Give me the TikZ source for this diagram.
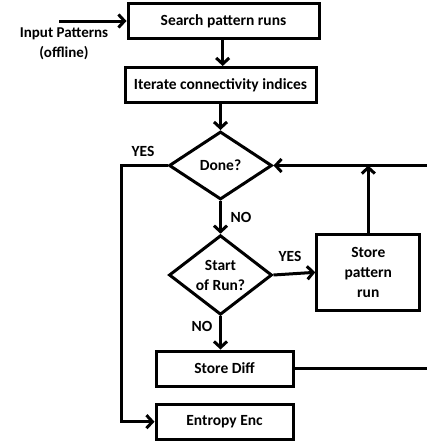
\documentclass[tikz,border=0pt]{standalone}
\usepackage{fontspec}
\setmainfont{Carlito}
\usetikzlibrary{arrows.meta,shapes.geometric}
\begin{document}
\begin{tikzpicture}[x=1pt,y=1pt,
  every node/.style={font=\bfseries\fontsize{15.5}{20}\selectfont},
  flow/.style={line width=3pt},
  arr/.style={flow,-{Straight Barb[length=6pt,width=13pt,line width=3pt]}},
  stepbox/.style={draw,line width=3pt,minimum height=35pt,inner sep=0pt,align=center},
  decide/.style={draw,line width=3pt,diamond,inner sep=0pt,minimum width=103pt,minimum height=68pt,align=center},
  lbl/.style={inner sep=0pt}]
\fill[white] (0,0) rectangle (427,-442);
\useasboundingbox (0,0) rectangle (427,-442);
% process boxes
\node[stepbox,minimum width=191pt] (search) at (223.5,-21) {Search pattern runs};
\node[stepbox,minimum width=191pt] (iter) at (220.5,-85) {Iterate connectivity indices};
\node[decide] (done) at (220.5,-165.5) {Done?};
\node[decide] (start) at (220.5,-275) {Start\\of Run?};
\node[stepbox,minimum width=103pt,minimum height=76pt] (store) at (368.3,-272.3) {Store\\pattern\\run};
\node[stepbox,minimum width=137pt] (diff) at (224.5,-368.5) {Store Diff};
\node[stepbox,minimum width=137pt] (enc) at (224.5,-421.7) {Entropy Enc};
% input and labels
\node[lbl,align=center,font=\bfseries\fontsize{15}{20}\selectfont] (inp) at (64,-44) {Input Patterns\\(offline)};
\coordinate (inA) at (59,-21);
\coordinate (loopR) at (427,-165.5);
\coordinate (diffR) at (427,-368.5);
\coordinate (leftT) at (121.7,-165.5);
\coordinate (leftB) at (121.7,-421.7);
\coordinate (midA) at (222.7,0);
\node[lbl] (yes1) at (143,-151) {YES};
\node[lbl] (no1) at (241,-217) {NO};
\node[lbl] (yes2) at (290,-256) {YES};
\node[lbl] (no2) at (202,-326) {NO};
% connectors
\draw[arr] (inA) -- (search.west);
\draw[arr] (search.south -| midA) -- (iter.north -| midA);
\draw[arr] (iter.south) -- (done.north);
\draw[arr] (done.south) -- (start.north);
\draw[arr] (start.east) -- (store.west);
\draw[arr] (start.south) -- (diff.north -| start.south);
\draw[arr] (loopR) -- (done.east);
\draw[arr] (store.north) -- (store.north |- done.east);
\draw[flow] (diff.east) -- (diffR);
\draw[arr] (done.west) -- (leftT) -- (leftB) -- (enc.west);
\end{tikzpicture}
\end{document}
